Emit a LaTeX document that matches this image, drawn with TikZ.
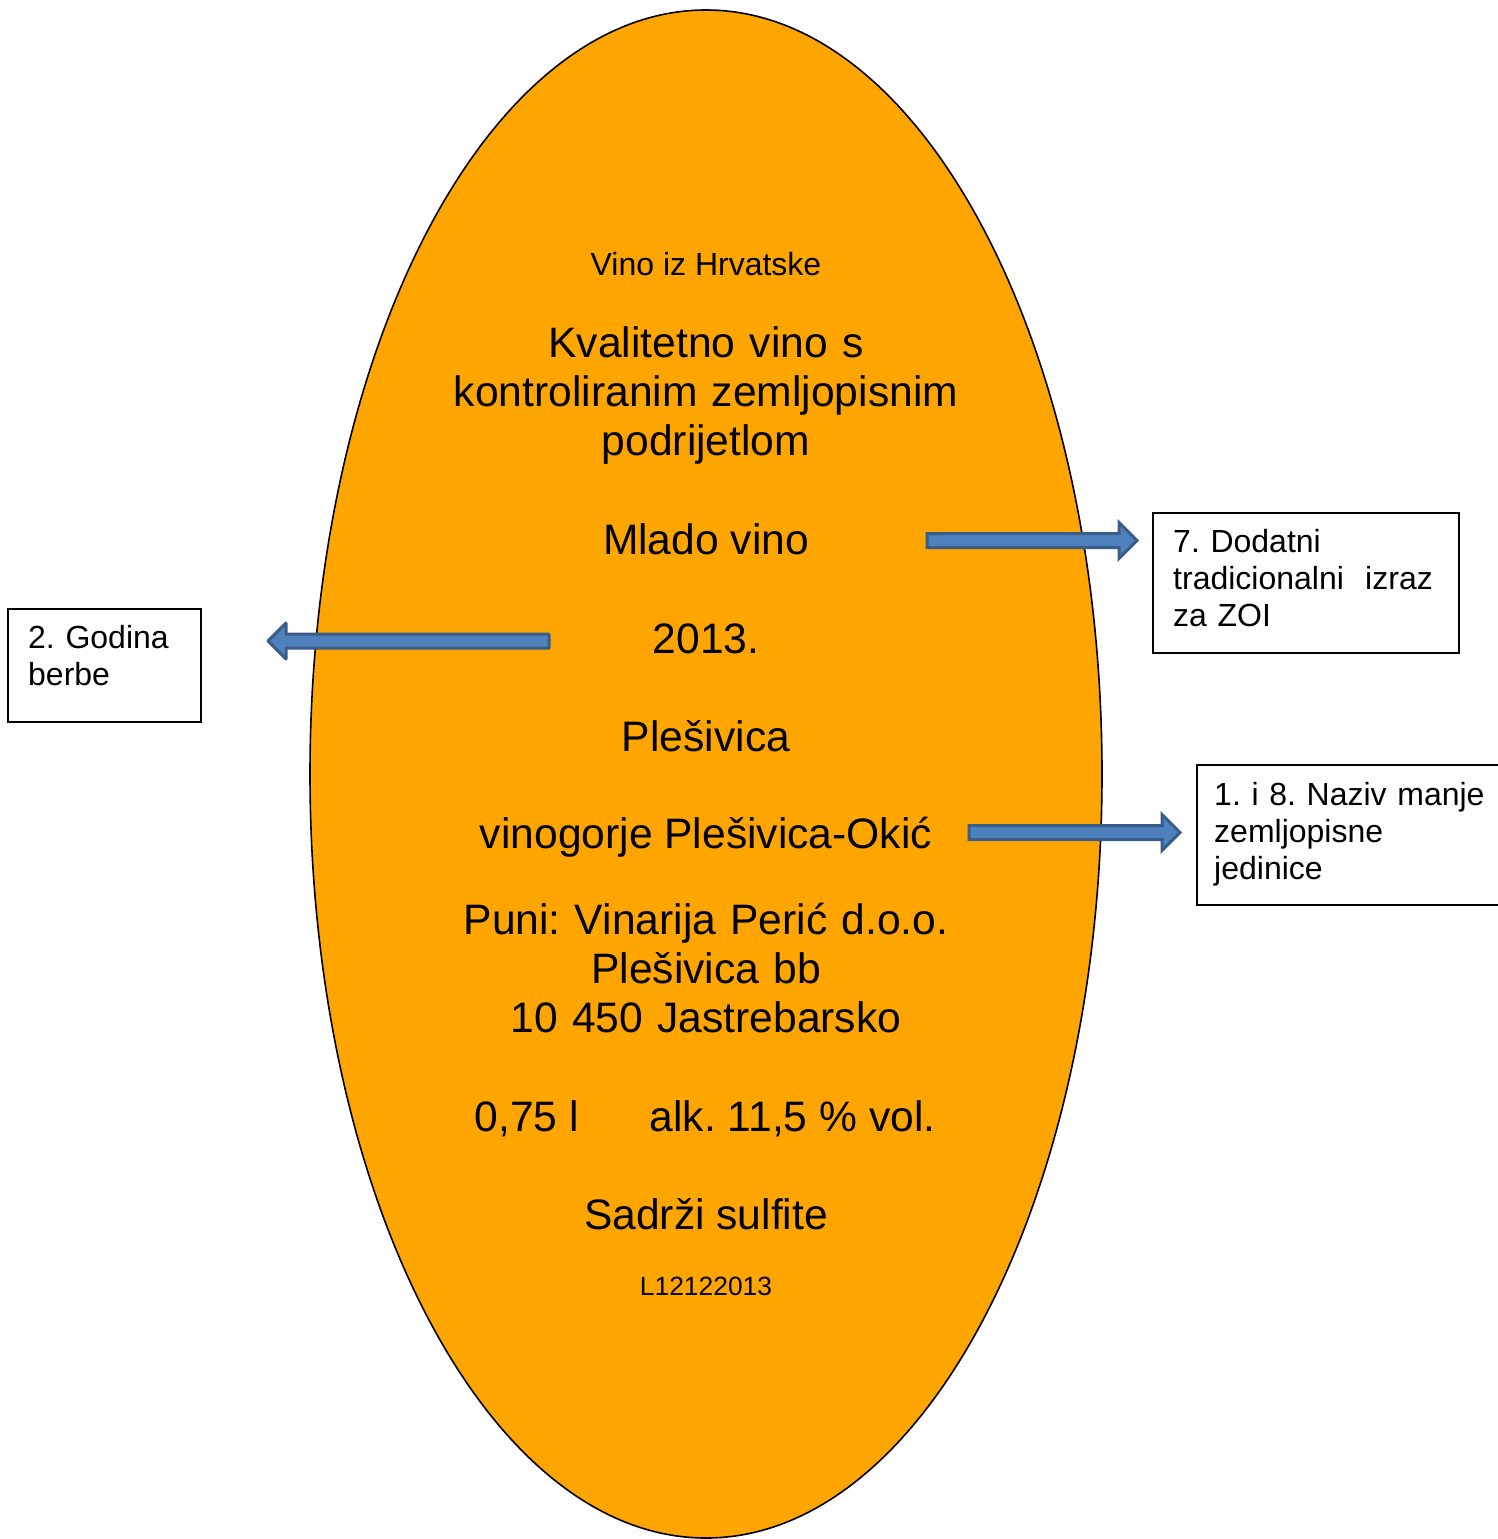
\documentclass[tikz,border=0pt]{standalone}
\usepackage{fontspec}
\setmainfont{Liberation Sans}
\frenchspacing
\usetikzlibrary{calc}
\definecolor{labelorange}{RGB}{255,165,0}
\definecolor{arrfill}{RGB}{79,129,189}
\definecolor{arrline}{RGB}{56,93,138}
\tikzset{
  bigtxt/.style={font=\fontsize{42.6}{49}\selectfont, inner sep=0pt, anchor=base},
  smalltxt/.style={font=\fontsize{32}{37}\selectfont, inner sep=0pt, anchor=base},
  tinytxt/.style={font=\fontsize{26.4}{30}\selectfont, inner sep=0pt, anchor=base},
  boxtxt/.style={font=\fontsize{32}{37}\selectfont, inner sep=0pt, anchor=base west, text width=300pt, align=left},
  infobox/.style={draw=black, line width=2pt, inner sep=0pt, anchor=north west},
  barrow/.style={fill=arrfill, draw=arrline, line width=3pt, line join=miter},
  barrowr/.style={fill=arrfill, draw=arrline, line width=3pt, line join=round}
}
\newcommand\blockarr[3]{%
  \draw[#3] let \p1=(#1), \p2=(#2), \n1={sign(\x2-\x1)} in
    (\x1,\y1+7pt) -- (\x2-\n1*18pt,\y1+7pt) -- (\x2-\n1*18pt,\y1+18pt) -- (\x2,\y1)
    -- (\x2-\n1*18pt,\y1-18pt) -- (\x2-\n1*18pt,\y1-7pt) -- (\x1,\y1-7pt) -- cycle;}
\begin{document}
\begin{tikzpicture}[x=1pt,y=-1pt]
\useasboundingbox (0,0) rectangle (1497,1539);
% label ellipse
\draw[fill=labelorange, draw=black, line width=1.6pt] (706,774) ellipse [x radius=396, y radius=764];
\coordinate (lab) at (706,774);
% label texts
\node[smalltxt] (t1) at (706,275) {Vino iz Hrvatske};
\node[bigtxt, text width=560pt, align=center] (t2) at (706,357) {Kvalitetno vino s\\kontroliranim zemljopisnim\\podrijetlom};
\node[bigtxt] (t3) at (706,554) {Mlado vino};
\node[bigtxt] (t4) at (706,653) {2013.};
\node[bigtxt] (t5) at (706,751) {Plešivica};
\node[bigtxt] (t6) at (706,848) {vinogorje Plešivica-Okić};
\node[bigtxt, text width=560pt, align=center] (t7) at (706,934) {Puni: Vinarija Perić d.o.o.\\Plešivica bb\\10 450 Jastrebarsko};
\node[bigtxt] (t8) at (705,1131) {0,75 l\hspace{71pt}alk. 11,5 \% vol.};
\node[bigtxt] (t9) at (706,1229) {Sadrži sulfite};
\node[tinytxt] (t10) at (706,1295) {L12122013};
% boxes
\node[infobox, minimum width=306pt, minimum height=140pt] (b7) at (1152,512) {};
\node[infobox, minimum width=193pt, minimum height=113pt] (b2) at (7,608) {};
\node[infobox, minimum width=330pt, minimum height=140pt] (b18) at (1196,764) {};
\node[boxtxt] (b7t) at (1173,552) {7. Dodatni\\tradicionalni\ \ izraz\\za ZOI};
\node[boxtxt] (b2t) at (28,648) {2. Godina\\berbe};
\node[boxtxt] (b18t) at (1214,805) {1. i 8. Naziv manje\\zemljopisne\\jedinice};
% arrows
\coordinate (a1s) at (927,540.5);
\coordinate (a1e) at (1137,540.5);
\coordinate (a2s) at (549,641);
\coordinate (a2e) at (268,641);
\coordinate (a3s) at (969,832.5);
\coordinate (a3e) at (1180,832.5);
\blockarr{a1s}{a1e}{barrow}
\blockarr{a2s}{a2e}{barrowr}
\blockarr{a3s}{a3e}{barrow}
\end{tikzpicture}
\end{document}
